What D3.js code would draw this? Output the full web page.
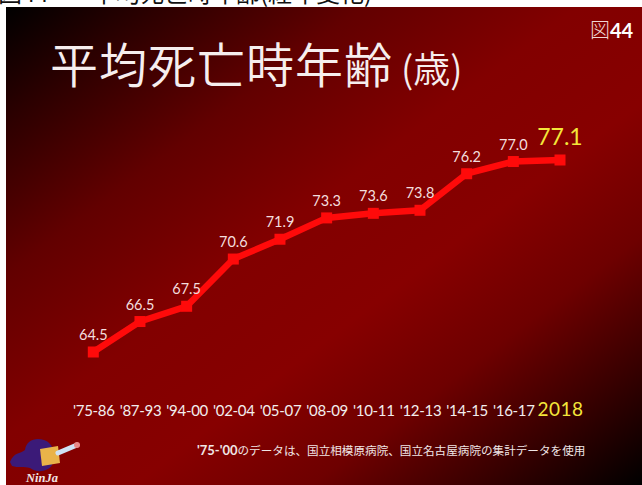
<!DOCTYPE html>
<html>
<head>
<meta charset="utf-8">
<script src="https://cdn.jsdelivr.net/npm/d3@7"></script>
<style>
  html, body { margin: 0; padding: 0; background: #ffffff; }
  svg { display: block; }
</style>
</head>
<body>
<script>
// Average age at death, by survey period
const categories = ["'75-86", "'87-93", "'94-00", "'02-04", "'05-07", "'08-09", "'10-11", "'12-13", "'14-15", "'16-17", "2018"];
const ages = [64.5, 66.5, 67.5, 70.6, 71.9, 73.3, 73.6, 73.8, 76.2, 77.0, 77.1];

const W = 642, H = 485;
const svg = d3.select("body").append("svg").attr("width", W).attr("height", H);

// Header line that sits above the slide (mostly cut off)
const hdr = svg.append("text")
  .attr("y", 2)
  .attr("font-family", "'Noto Sans CJK JP', sans-serif")
  .attr("font-size", 24)
  .attr("fill", "#111");
hdr.append("tspan").attr("x", -2).text("図44");
hdr.append("tspan").attr("x", 92).text("平均死亡時年齢(経年変化)");

// Slide background: diagonal dark-red gradient
const defs = svg.append("defs");
const grad = defs.append("linearGradient")
  .attr("id", "bg").attr("x1", 0).attr("y1", 0).attr("x2", 1).attr("y2", 1);
[[0, "#000000"], [0.12, "#2c0000"], [0.28, "#620000"], [0.45, "#820000"],
 [0.6, "#870000"], [0.74, "#6e0000"], [0.87, "#380000"], [1, "#000000"]]
  .forEach(([o, c]) => grad.append("stop").attr("offset", o).attr("stop-color", c));

svg.append("rect")
  .attr("x", 6).attr("y", 7).attr("width", W - 6).attr("height", H - 7)
  .attr("fill", "url(#bg)");

// Title
const title = svg.append("text")
  .attr("x", 50).attr("y", 83)
  .attr("font-family", "'Noto Sans CJK JP', sans-serif")
  .attr("font-weight", 350)
  .attr("fill", "#f6eeee");
title.append("tspan").attr("font-size", 48).attr("letter-spacing", 1).text("平均死亡時年齢");
title.append("tspan").attr("font-size", 37).attr("dx", 8).text("(歳)");

// Figure number
const fig = svg.append("text").attr("x", 590).attr("y", 38);
fig.append("tspan")
  .attr("font-family", "'Noto Sans CJK JP', sans-serif")
  .attr("font-weight", 300)
  .attr("font-size", 20).attr("fill", "#f0d6d6").text("図");
fig.append("tspan")
  .attr("font-family", "Lato, sans-serif").attr("font-weight", 700)
  .attr("font-size", 20).attr("fill", "#ffffff").text("44");

// Scales
const x = d3.scalePoint().domain(categories).range([93.3, 560]);
const y = d3.scaleLinear().domain([64.5, 77.1]).range([352, 160]);

const pts = categories.map((c, i) => ({ c, v: ages[i], last: i === categories.length - 1 }));

// Line
svg.append("path")
  .datum(pts)
  .attr("fill", "none")
  .attr("stroke", "#ff0a0a")
  .attr("stroke-width", 6.5)
  .attr("stroke-linejoin", "round")
  .attr("d", d3.line().x(d => x(d.c)).y(d => y(d.v)));

// Square markers
const ms = 11;
svg.append("g").selectAll("rect")
  .data(pts).join("rect")
  .attr("x", d => x(d.c) - ms / 2)
  .attr("y", d => y(d.v) - ms / 2)
  .attr("width", ms).attr("height", ms)
  .attr("fill", "#ff0a0a");

// Value labels
const fmt = d3.format(".1f");
svg.append("g").selectAll("text")
  .data(pts).join("text")
  .attr("x", d => x(d.c))
  .attr("y", d => y(d.v) - (d.last ? 15 : 12))
  .attr("text-anchor", "middle")
  .attr("font-family", "Lato, sans-serif")
  .attr("font-size", d => d.last ? 23 : 14.5)
  .attr("fill", d => d.last ? "#f4e63a" : "#f3dede")
  .text(d => fmt(d.v));

// Period axis
const axis = svg.append("g")
  .attr("transform", "translate(0,401)")
  .call(d3.axisBottom(x).tickSize(0).tickPadding(0));
axis.select(".domain").remove();
axis.selectAll(".tick text")
  .attr("dy", 0)
  .attr("y", 15)
  .attr("font-family", "Lato, sans-serif")
  .attr("font-size", (d, i) => i === categories.length - 1 ? 19 : 15)
  .attr("letter-spacing", (d, i) => i === categories.length - 1 ? 0.5 : -0.3)
  .attr("fill", (d, i) => i === categories.length - 1 ? "#f4e63a" : "#f2eeee");

// Source note
const note = svg.append("text")
  .attr("x", 197).attr("y", 455)
  .attr("fill", "#f0e6e6");
note.append("tspan")
  .attr("font-family", "Lato, sans-serif").attr("font-weight", 700)
  .attr("font-size", 13).text("'75-'00");
note.append("tspan")
  .attr("font-family", "'Noto Sans CJK JP', sans-serif")
  .attr("font-size", 11.6).text("のデータは、国立相模原病院、国立名古屋病院の集計データを使用");

// NinJa emblem
const logo = svg.append("g");
logo.append("path")
  .attr("d", "M10,462 C14,452 20,454 25,450 C26,440 36,437 44,440 C54,443 56,456 52,465 C48,472 36,473 30,468 C24,466 18,468 12,466 Z")
  .attr("fill", "#3b1a78");
logo.append("path")
  .attr("d", "M40,449 L58,446 L60,463 L42,466 Z")
  .attr("fill", "#e9b349");
logo.append("line")
  .attr("x1", 58).attr("y1", 453).attr("x2", 77).attr("y2", 445)
  .attr("stroke", "#cfe2f5").attr("stroke-width", 5).attr("stroke-linecap", "round");
logo.append("circle")
  .attr("cx", 77).attr("cy", 445).attr("r", 3)
  .attr("fill", "#e88888");
logo.append("text")
  .attr("x", 26).attr("y", 482)
  .attr("font-family", "'Liberation Serif', serif")
  .attr("font-style", "italic").attr("font-weight", 700)
  .attr("font-size", 12.5).attr("fill", "#f2e6e6")
  .text("NinJa");
</script>
</body>
</html>
